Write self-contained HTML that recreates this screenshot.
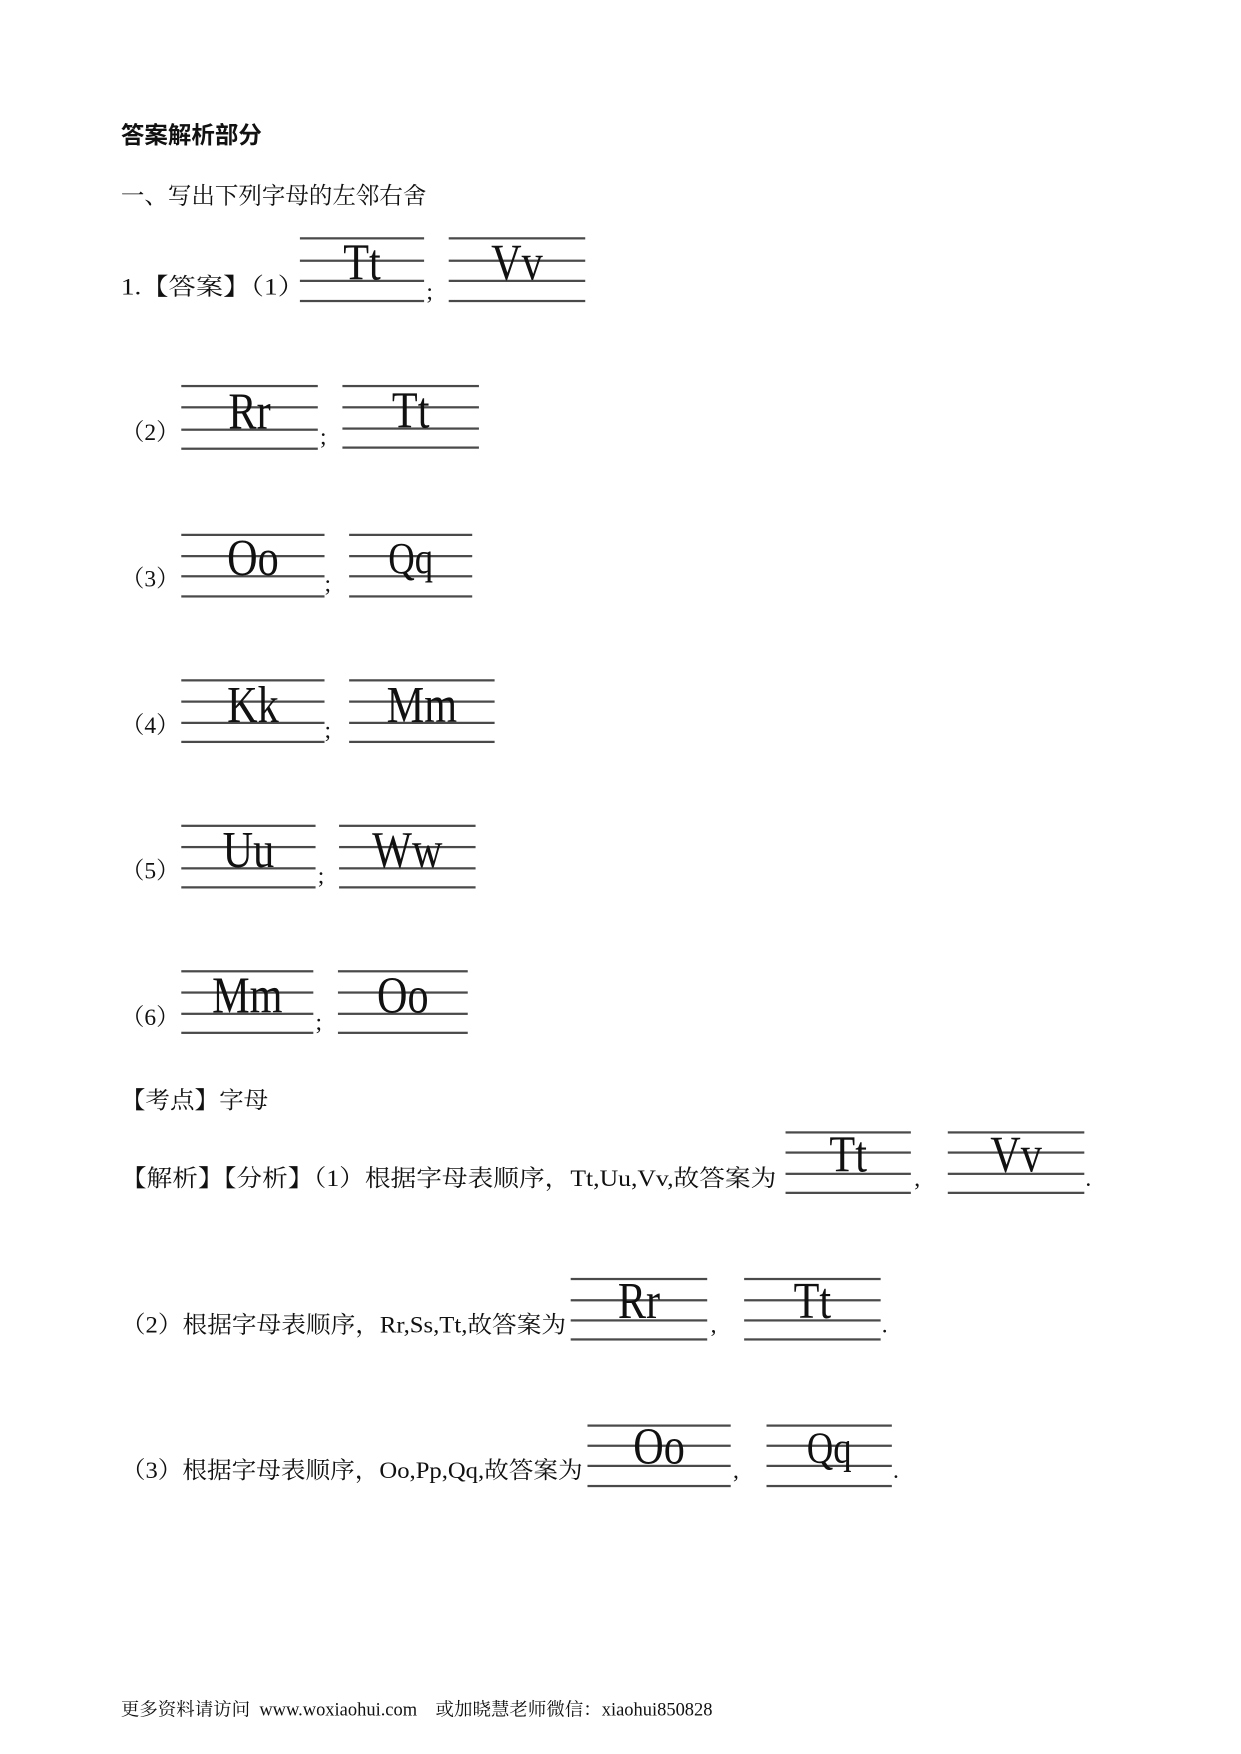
<!DOCTYPE html>
<html><head><meta charset="utf-8"><style>
html,body{margin:0;padding:0;background:#fff;}
body{width:1241px;height:1754px;overflow:hidden;position:relative;}
#w{position:absolute;left:0;top:0;width:1100px;height:1555px;transform:scale(1.119);transform-origin:0 0;}
.t{position:absolute;font-family:"Liberation Serif","Noto Serif CJK SC","Noto Sans CJK SC",serif;font-size:21px;line-height:22px;white-space:nowrap;color:#111;transform-origin:0 50%;}
.b{position:absolute;}
.b i{position:absolute;left:0;right:0;height:0;border-top:2px solid #4a4a4a;}
.b span{position:absolute;left:0;right:0;text-align:center;font-family:"Liberation Serif",serif;font-size:46px;line-height:46px;color:#111;transform:scaleX(0.82);}
</style></head><body><div id="w">
<div class="t" style="left:108px;top:111px;font-weight:bold;font-size:21px;font-family:'Liberation Sans','Noto Sans CJK SC',sans-serif;">答案解析部分</div>
<div class="t" style="left:108px;top:164px;">一、写出下列字母的左邻右舍</div>

<div class="t" style="left:108px;top:245px;transform:scaleX(1.16)">1.【答案】（1）</div>
<div class="b" style="left:268px;top:212px;width:111px;height:58px"><i style="top:0"></i><i style="top:20px"></i><i style="top:38px"></i><i style="top:56px"></i><span style="top:0">Tt</span></div>
<div class="t" style="left:381px;top:249px;">;</div>
<div class="b" style="left:401px;top:212px;width:122px;height:58px"><i style="top:0"></i><i style="top:20px"></i><i style="top:38px"></i><i style="top:56px"></i><span style="top:0">Vv</span></div>

<div class="t" style="left:108px;top:375px;">（2）</div>
<div class="b" style="left:162px;top:344px;width:122px;height:58px"><i style="top:0"></i><i style="top:19px"></i><i style="top:39px"></i><i style="top:56px"></i><span style="top:1px">Rr</span></div>
<div class="t" style="left:286px;top:379px;">;</div>
<div class="b" style="left:306px;top:344px;width:122px;height:58px"><i style="top:0"></i><i style="top:19px"></i><i style="top:38px"></i><i style="top:55px"></i><span style="top:0">Tt</span></div>

<div class="t" style="left:108px;top:506px;">（3）</div>
<div class="b" style="left:162px;top:477px;width:128px;height:58px"><i style="top:0"></i><i style="top:19px"></i><i style="top:37px"></i><i style="top:55px"></i><span style="top:-1px">Oo</span></div>
<div class="t" style="left:290px;top:510px;">;</div>
<div class="b" style="left:312px;top:477px;width:110px;height:58px"><i style="top:0"></i><i style="top:19px"></i><i style="top:37px"></i><i style="top:55px"></i><span style="top:-1px;font-size:40px">Qq</span></div>

<div class="t" style="left:108px;top:637px;">（4）</div>
<div class="b" style="left:162px;top:607px;width:128px;height:58px"><i style="top:0"></i><i style="top:19px"></i><i style="top:38px"></i><i style="top:55px"></i><span style="top:0">Kk</span></div>
<div class="t" style="left:290px;top:641px;">;</div>
<div class="b" style="left:312px;top:607px;width:130px;height:58px"><i style="top:0"></i><i style="top:19px"></i><i style="top:38px"></i><i style="top:55px"></i><span style="top:0">Mm</span></div>

<div class="t" style="left:108px;top:767px;">（5）</div>
<div class="b" style="left:162px;top:737px;width:120px;height:58px"><i style="top:0"></i><i style="top:19px"></i><i style="top:38px"></i><i style="top:55px"></i><span style="top:0">Uu</span></div>
<div class="t" style="left:284px;top:771px;">;</div>
<div class="b" style="left:303px;top:737px;width:122px;height:58px"><i style="top:0"></i><i style="top:19px"></i><i style="top:38px"></i><i style="top:55px"></i><span style="top:0">Ww</span></div>

<div class="t" style="left:108px;top:898px;">（6）</div>
<div class="b" style="left:162px;top:867px;width:118px;height:58px"><i style="top:0"></i><i style="top:19px"></i><i style="top:38px"></i><i style="top:55px"></i><span style="top:0">Mm</span></div>
<div class="t" style="left:282px;top:902px;">;</div>
<div class="b" style="left:302px;top:867px;width:116px;height:58px"><i style="top:0"></i><i style="top:19px"></i><i style="top:38px"></i><i style="top:55px"></i><span style="top:0">Oo</span></div>

<div class="t" style="left:108px;top:972px;transform:scaleX(1.045)">【考点】字母</div>

<div class="t" style="left:108px;top:1042px;transform:scaleX(1.093)">【解析】【分析】（1）根据字母表顺序，Tt,Uu,Vv,故答案为</div>
<div class="b" style="left:702px;top:1011px;width:112px;height:58px"><i style="top:0"></i><i style="top:18px"></i><i style="top:37px"></i><i style="top:54px"></i><span style="top:-2px">Tt</span></div>
<div class="t" style="left:817px;top:1042px;">,</div>
<div class="b" style="left:847px;top:1011px;width:122px;height:58px"><i style="top:0"></i><i style="top:18px"></i><i style="top:37px"></i><i style="top:54px"></i><span style="top:-2px">Vv</span></div>
<div class="t" style="left:970px;top:1042px;">.</div>

<div class="t" style="left:108px;top:1173px;transform:scaleX(1.05)">（2）根据字母表顺序，Rr,Ss,Tt,故答案为</div>
<div class="b" style="left:510px;top:1142px;width:122px;height:58px"><i style="top:0"></i><i style="top:19px"></i><i style="top:37px"></i><i style="top:54px"></i><span style="top:-2px">Rr</span></div>
<div class="t" style="left:635px;top:1173px;">,</div>
<div class="b" style="left:665px;top:1142px;width:122px;height:58px"><i style="top:0"></i><i style="top:19px"></i><i style="top:37px"></i><i style="top:54px"></i><span style="top:-2px">Tt</span></div>
<div class="t" style="left:788px;top:1173px;">.</div>

<div class="t" style="left:108px;top:1303px;transform:scaleX(1.048)">（3）根据字母表顺序，Oo,Pp,Qq,故答案为</div>
<div class="b" style="left:525px;top:1273px;width:128px;height:58px"><i style="top:0"></i><i style="top:18px"></i><i style="top:36px"></i><i style="top:54px"></i><span style="top:-3px">Oo</span></div>
<div class="t" style="left:655px;top:1303px;">,</div>
<div class="b" style="left:685px;top:1273px;width:112px;height:58px"><i style="top:0"></i><i style="top:18px"></i><i style="top:36px"></i><i style="top:54px"></i><span style="top:-2px;font-size:40px">Qq</span></div>
<div class="t" style="left:798px;top:1303px;">.</div>

<div class="t" style="left:108px;top:1517px;font-size:16.5px;">更多资料请访问&nbsp; www.woxiaohui.com&nbsp;&nbsp;&nbsp; 或加晓慧老师微信：xiaohui850828</div>
</div></body></html>
